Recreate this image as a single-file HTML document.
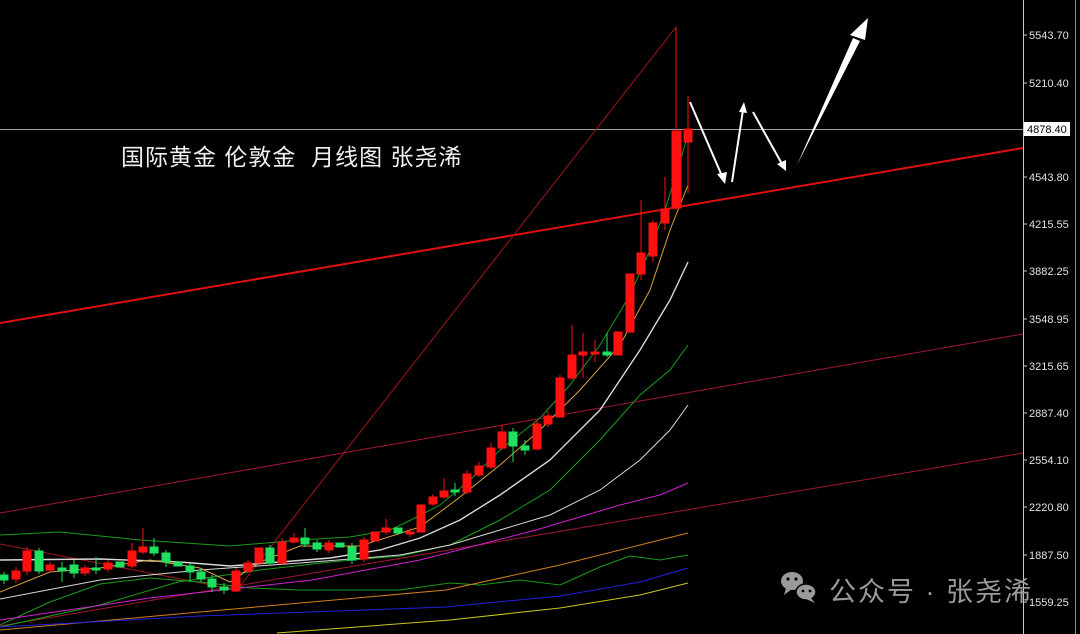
<!DOCTYPE html>
<html><head><meta charset="utf-8"><style>
html,body{margin:0;padding:0;background:#000;width:1080px;height:634px;overflow:hidden}
svg{display:block}
</style></head><body>
<svg width="1080" height="634" viewBox="0 0 1080 634" xmlns="http://www.w3.org/2000/svg">
<rect width="1080" height="634" fill="#000"/>
<line x1="1023.5" y1="0" x2="1023.5" y2="634" stroke="#c8c8c8" stroke-width="1"/>
<line x1="1075.5" y1="0" x2="1075.5" y2="634" stroke="#888" stroke-width="1"/>
<g fill="#e0e0e0" font-family="Liberation Sans, sans-serif" font-size="11">
<text x="1029" y="39">5543.70</text>
<text x="1029" y="87">5210.40</text>
<text x="1029" y="181">4543.80</text>
<text x="1029" y="228">4215.55</text>
<text x="1029" y="275">3882.25</text>
<text x="1029" y="323">3548.95</text>
<text x="1029" y="370">3215.65</text>
<text x="1029" y="417">2887.40</text>
<text x="1029" y="464">2554.10</text>
<text x="1029" y="511">2220.80</text>
<text x="1029" y="559">1887.50</text>
<text x="1029" y="606">1559.25</text>
</g>
<g stroke="#c8c8c8"><line x1="1023" y1="35" x2="1027" y2="35"/><line x1="1023" y1="83" x2="1027" y2="83"/><line x1="1023" y1="177" x2="1027" y2="177"/><line x1="1023" y1="224" x2="1027" y2="224"/><line x1="1023" y1="271" x2="1027" y2="271"/><line x1="1023" y1="319" x2="1027" y2="319"/><line x1="1023" y1="366" x2="1027" y2="366"/><line x1="1023" y1="413" x2="1027" y2="413"/><line x1="1023" y1="460" x2="1027" y2="460"/><line x1="1023" y1="507" x2="1027" y2="507"/><line x1="1023" y1="555" x2="1027" y2="555"/><line x1="1023" y1="602" x2="1027" y2="602"/></g>
<line x1="0" y1="129.5" x2="1023" y2="129.5" stroke="#a0a0a0" stroke-width="1"/>
<rect x="1024" y="122" width="46" height="14" fill="#fff"/>
<text x="1027" y="133" fill="#000" font-family="Liberation Sans, sans-serif" font-size="11">4878.40</text>

<line x1="0" y1="323" x2="1023" y2="148" stroke="#e01010" stroke-width="2"/>
<line x1="0" y1="513" x2="1023" y2="334" stroke="#a01830" stroke-width="1"/>
<line x1="0" y1="626" x2="1023" y2="453" stroke="#a01830" stroke-width="1"/>
<polyline points="0,544 237,590 676,27" fill="none" stroke="#a01818" stroke-width="1"/>

<g fill="none" stroke-width="1">
<polyline stroke="#1a9a1a" points="0,535 60,532 140,540 230,546 300,540 350,537 390,530 411,520 440,505 470,480 500,450 540,418 570,385 600,345 630,295 650,250 665,210 688,135"/>
<polyline stroke="#1a9a1a" points="0,625 50,602 100,584 150,578 200,582 250,588 300,590 400,590 450,583 480,585 520,580 560,585 600,567 630,556 660,560 688,555"/>
<polyline stroke="#1aa01a" points="0,627 100,605 178,582 260,570 330,562 400,556 450,545 500,520 550,490 600,440 640,395 670,370 688,345"/>
<polyline stroke="#d8d8d8" stroke-width="1.4" points="0,560 100,559 180,562 230,566 280,562 330,558 380,550 420,538 460,520 500,495 550,460 600,410 640,350 670,300 688,262"/>
<polyline stroke="#d8d8d8" points="0,599 100,580 200,570 300,563 400,555 450,545 500,530 550,515 600,490 640,460 670,430 688,405"/>
<polyline stroke="#d020d0" points="0,620 150,598 312,580 420,560 536,530 620,505 660,495 688,483"/>
<polyline stroke="#d08020" points="0,630 200,612 446,590 560,565 640,545 688,533"/>
<polyline stroke="#2020e0" points="0,627 200,616 446,607 560,596 640,582 688,568"/>
<polyline stroke="#c8c820" points="277,633 450,620 560,608 640,595 688,583"/>
<polyline stroke="#d8a040" points="0,592 50,572 100,568 150,560 200,568 230,582 260,562 300,546 360,546 420,527 460,497 500,465 540,430 580,390 620,345 650,290 670,230 688,185"/>
</g>

<g stroke-width="1">
<g stroke="#ff1010" fill="#ff1010">
<line x1="16" y1="567" x2="16" y2="583"/><rect x="12" y="571" width="8" height="8"/>
<line x1="27" y1="547" x2="27" y2="575"/><rect x="23" y="551" width="8" height="20"/>
<line x1="50" y1="562" x2="50" y2="573"/><rect x="46" y="565" width="8" height="5"/>
<line x1="85" y1="565" x2="85" y2="576"/><rect x="81" y="568" width="8" height="5"/>
<line x1="108" y1="560" x2="108" y2="572"/><rect x="104" y="563" width="8" height="6"/>
<line x1="132" y1="543" x2="132" y2="568"/><rect x="128" y="551" width="8" height="15"/>
<line x1="143" y1="528" x2="143" y2="554"/><rect x="139" y="547" width="8" height="5"/>
<line x1="236" y1="568" x2="236" y2="592"/><rect x="232" y="571" width="8" height="20"/>
<line x1="248" y1="560" x2="248" y2="573"/><rect x="244" y="563" width="8" height="8"/>
<rect x="255" y="548" width="8" height="15"/>
<line x1="282" y1="538" x2="282" y2="565"/><rect x="278" y="542" width="8" height="21"/>
<line x1="294" y1="533" x2="294" y2="543"/><rect x="290" y="538" width="8" height="4"/>
<line x1="329" y1="540" x2="329" y2="553"/><rect x="325" y="543" width="8" height="7"/>
<line x1="364" y1="537" x2="364" y2="562"/><rect x="360" y="540" width="8" height="19"/>
<rect x="371" y="532" width="8" height="9"/>
<line x1="386" y1="519" x2="386" y2="535"/><rect x="382" y="528" width="8" height="4"/>
<line x1="410" y1="528" x2="410" y2="537"/><rect x="406" y="532" width="8" height="2"/>
<rect x="417" y="505" width="8" height="27"/>
<line x1="433" y1="494" x2="433" y2="506"/><rect x="429" y="497" width="8" height="7"/>
<line x1="444" y1="478" x2="444" y2="499"/><rect x="440" y="491" width="8" height="6"/>
<line x1="467" y1="470" x2="467" y2="494"/><rect x="463" y="474" width="8" height="18"/>
<line x1="479" y1="462" x2="479" y2="477"/><rect x="475" y="466" width="8" height="9"/>
<line x1="491" y1="443" x2="491" y2="469"/><rect x="487" y="448" width="8" height="19"/>
<line x1="502" y1="425" x2="502" y2="450"/><rect x="498" y="432" width="8" height="16"/>
<line x1="537" y1="420" x2="537" y2="450"/><rect x="533" y="424" width="8" height="25"/>
<line x1="548" y1="411" x2="548" y2="427"/><rect x="544" y="416" width="8" height="8"/>
<line x1="560" y1="375" x2="560" y2="418"/><rect x="556" y="378" width="8" height="39"/>
<line x1="572" y1="325" x2="572" y2="380"/><rect x="568" y="355" width="8" height="23"/>
<line x1="583" y1="333" x2="583" y2="378"/><rect x="579" y="352" width="8" height="3"/>
<line x1="595" y1="340" x2="595" y2="362"/><rect x="591" y="352" width="8" height="2"/>
<rect x="614" y="332" width="8" height="23"/>
<rect x="626" y="274" width="8" height="58"/>
<line x1="641" y1="200" x2="641" y2="280"/><rect x="637" y="253" width="8" height="21"/>
<line x1="653" y1="220" x2="653" y2="262"/><rect x="649" y="223" width="8" height="33"/>
<line x1="665" y1="177" x2="665" y2="230"/><rect x="661" y="209" width="8" height="14"/>
<line x1="676" y1="27" x2="676" y2="210"/><rect x="672" y="131" width="9" height="77"/>
<line x1="688" y1="96" x2="688" y2="193"/><rect x="684" y="129" width="8" height="13"/>
</g>
<g stroke="#20e060" fill="#20e060">
<line x1="4" y1="572" x2="4" y2="584"/><rect x="0" y="575" width="8" height="5"/>
<line x1="39" y1="548" x2="39" y2="574"/><rect x="35" y="551" width="8" height="20"/>
<line x1="62" y1="562" x2="62" y2="582"/><rect x="58" y="568" width="8" height="3"/>
<line x1="74" y1="560" x2="74" y2="578"/><rect x="70" y="565" width="8" height="8"/>
<line x1="96" y1="557" x2="96" y2="574"/><rect x="92" y="568" width="8" height="2"/>
<rect x="116" y="562" width="8" height="5"/>
<line x1="154" y1="538" x2="154" y2="556"/><rect x="150" y="547" width="8" height="6"/>
<line x1="166" y1="550" x2="166" y2="567"/><rect x="162" y="553" width="8" height="9"/>
<rect x="174" y="562" width="8" height="4"/>
<line x1="190" y1="563" x2="190" y2="582"/><rect x="186" y="566" width="8" height="6"/>
<line x1="201" y1="568" x2="201" y2="582"/><rect x="197" y="572" width="8" height="7"/>
<line x1="212" y1="575" x2="212" y2="592"/><rect x="208" y="579" width="8" height="8"/>
<line x1="224" y1="583" x2="224" y2="594"/><rect x="220" y="587" width="8" height="3"/>
<line x1="270" y1="545" x2="270" y2="565"/><rect x="266" y="548" width="8" height="15"/>
<line x1="305" y1="528" x2="305" y2="547"/><rect x="301" y="538" width="8" height="6"/>
<line x1="317" y1="540" x2="317" y2="552"/><rect x="313" y="543" width="8" height="6"/>
<rect x="336" y="543" width="8" height="4"/>
<line x1="352" y1="543" x2="352" y2="564"/><rect x="348" y="547" width="8" height="13"/>
<rect x="394" y="528" width="8" height="5"/>
<line x1="455" y1="483" x2="455" y2="496"/><rect x="451" y="490" width="8" height="2"/>
<line x1="513" y1="428" x2="513" y2="462"/><rect x="509" y="432" width="8" height="14"/>
<line x1="525" y1="440" x2="525" y2="455"/><rect x="521" y="446" width="8" height="4"/>
<line x1="607" y1="333" x2="607" y2="357"/><rect x="603" y="352" width="8" height="3"/>
</g>
</g>

<g fill="#fff" stroke="#fff">
<line x1="690" y1="102" x2="722" y2="176" stroke-width="2"/><polygon points="717,174 727,172 725,184" stroke="none"/>
<line x1="732" y1="182" x2="743" y2="110" stroke-width="2"/><polygon points="739,112 747,113 744,102" stroke="none"/>
<line x1="753" y1="112" x2="782" y2="164" stroke-width="2"/><polygon points="777,164 786,160 786,171" stroke="none"/>
<polygon points="797,165 853,38 860,41" stroke="none"/><polygon points="850,35 865,40 868,18" stroke="none"/>
</g>

<text x="121" y="165" fill="#f0f0f0" font-family="Liberation Sans, 'Noto Sans CJK SC', sans-serif" font-size="23" letter-spacing="1">国际黄金 伦敦金&#160;&#160;月线图 张尧浠</text>

<g fill="#9a9a9a">
<ellipse cx="792" cy="581" rx="11" ry="9"/>
<polygon points="786,588 784,595 792,589"/>
<ellipse cx="806" cy="592" rx="10" ry="8" stroke="#000" stroke-width="1.5"/>
<polygon points="811,598 815,603 806,599"/>
</g>
<g fill="#000"><circle cx="788" cy="579" r="1.6"/><circle cx="796" cy="579" r="1.6"/><circle cx="803" cy="591" r="1.4"/><circle cx="810" cy="591" r="1.4"/></g>
<text x="829" y="601" fill="#9a9a9a" font-family="Liberation Sans, 'Noto Sans CJK SC', sans-serif" font-size="27" letter-spacing="2">公众号 · 张尧浠</text>
</svg>
</body></html>
